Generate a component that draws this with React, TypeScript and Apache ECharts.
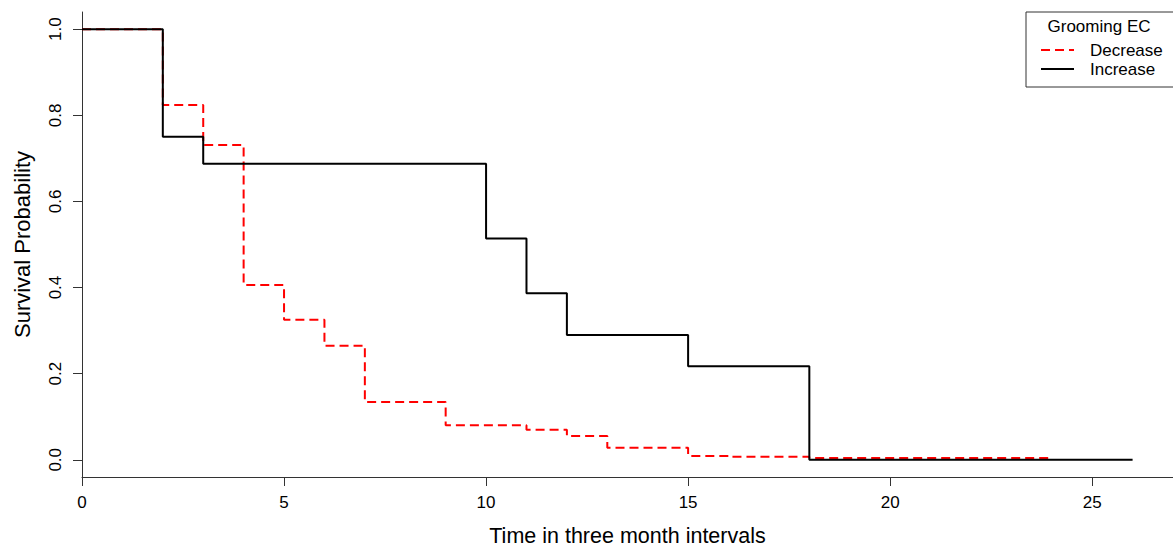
import React, { useEffect, useRef } from "react";
import * as echarts from "echarts";

const legendTitle = "Grooming EC";
const seriesNames = ["Decrease", "Increase"];
const xTitle = "Time in three month intervals";
const yTitle = "Survival Probability";
const xTicks = [0, 5, 10, 15, 20, 25];
const yTicks = [0, 0.2, 0.4, 0.6, 0.8, 1.0];

const timesDecrease = [0, 2, 3, 4, 5, 6, 7, 9, 11, 12, 13, 15, 16, 18, 24];
const survDecrease = [1, 0.824, 0.731, 0.406, 0.325, 0.265, 0.134, 0.08, 0.07, 0.055, 0.028, 0.009, 0.007, 0.004, 0.004];
const timesIncrease = [0, 2, 3, 10, 11, 12, 15, 18, 26];
const survIncrease = [1, 0.75, 0.6875, 0.514, 0.387, 0.29, 0.217, 0, 0];

const FONT = "'Liberation Sans', Arial, Helvetica, sans-serif";

export default function App() {
  const ref = useRef<HTMLDivElement>(null);
  useEffect(() => {
    document.body.style.margin = "0";
    const chart = echarts.init(ref.current!, null, { renderer: "svg" });
    const axisLine = { show: true, onZero: false, lineStyle: { color: "#333", width: 1 } };
    const option: any = {
      animation: false,
      backgroundColor: "#fff",
      textStyle: { fontFamily: FONT },
      grid: { left: 82, top: 12, right: 0, bottom: 72, containLabel: false },
      xAxis: {
        type: "value",
        min: 0,
        max: 27,
        name: xTitle,
        nameLocation: "middle",
        nameGap: 48,
        nameTextStyle: { fontSize: 21.5, color: "#000", fontFamily: FONT },
        axisLine,
        axisTick: { show: true, length: 9, customValues: xTicks, lineStyle: { color: "#333" } },
        axisLabel: { customValues: xTicks, fontSize: 17, color: "#000", margin: 17, fontFamily: FONT },
        splitLine: { show: false },
      },
      yAxis: {
        type: "value",
        min: -0.04,
        max: 1.04,
        name: yTitle,
        nameLocation: "middle",
        nameRotate: 90,
        nameGap: 49,
        nameTextStyle: { fontSize: 22, color: "#000", fontFamily: FONT },
        axisLine,
        axisTick: { show: true, length: 9, customValues: yTicks, lineStyle: { color: "#333" } },
        axisLabel: {
          customValues: yTicks,
          rotate: 90,
          fontSize: 17,
          color: "#000",
          margin: 18,
          fontFamily: FONT,
          formatter: (v: number) => v.toFixed(1),
        },
        splitLine: { show: false },
      },
      series: [
        {
          name: seriesNames[0],
          type: "line",
          step: "end",
          symbol: "none",
          data: timesDecrease.map((t, i) => [t, survDecrease[i]]),
          lineStyle: { color: "#ff0000", width: 2, type: [9, 5] },
          z: 2,
        },
        {
          name: seriesNames[1],
          type: "line",
          step: "end",
          symbol: "none",
          data: timesIncrease.map((t, i) => [t, survIncrease[i]]),
          lineStyle: { color: "#000", width: 2 },
          z: 10,
        },
      ],
      graphic: [
        {
          type: "rect",
          shape: { x: 1026, y: 12, width: 200, height: 75 },
          style: { fill: "#fff", stroke: "#333", lineWidth: 1 },
          z: 20,
        },
        {
          type: "text",
          x: 1099,
          y: 26,
          style: { text: legendTitle, fill: "#000", font: `17px ${FONT}`, align: "center", verticalAlign: "middle" },
          z: 21,
        },
        {
          type: "line",
          shape: { x1: 1041, y1: 50, x2: 1074, y2: 50 },
          style: { stroke: "#ff0000", lineWidth: 2, lineDash: [9, 5] },
          z: 21,
        },
        {
          type: "line",
          shape: { x1: 1041, y1: 69, x2: 1074, y2: 69 },
          style: { stroke: "#000", lineWidth: 2 },
          z: 21,
        },
        {
          type: "text",
          x: 1090,
          y: 50,
          style: { text: seriesNames[0], fill: "#000", font: `17px ${FONT}`, align: "left", verticalAlign: "middle" },
          z: 21,
        },
        {
          type: "text",
          x: 1090,
          y: 69,
          style: { text: seriesNames[1], fill: "#000", font: `17px ${FONT}`, align: "left", verticalAlign: "middle" },
          z: 21,
        },
      ],
    };
    chart.setOption(option);
    return () => chart.dispose();
  }, []);
  return <div ref={ref} style={{ width: 1173, height: 552 }} />;
}
